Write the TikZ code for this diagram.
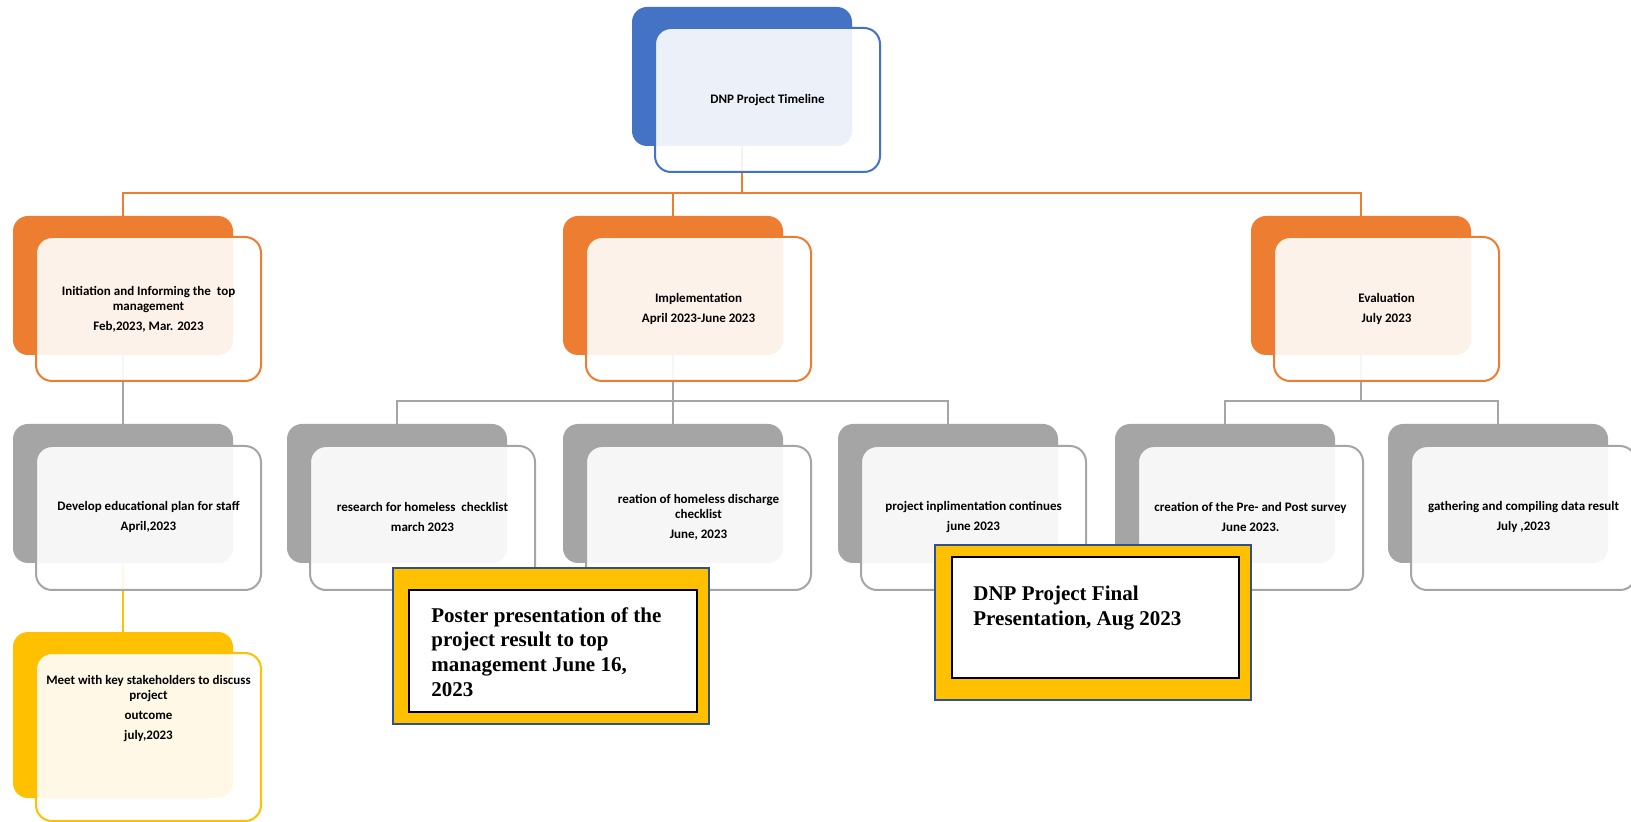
\documentclass[tikz,border=0pt]{standalone}
\usepackage{fontspec}
\setmainfont{Carlito}
\newfontfamily\callfont{Liberation Serif}
\usetikzlibrary{backgrounds}
\definecolor{cOrange}{HTML}{ED7D31}
\definecolor{cBlue}{HTML}{4472C4}
\definecolor{cGray}{HTML}{A5A5A5}
\definecolor{cYellow}{HTML}{FFC000}
\definecolor{cNavy}{HTML}{2F528F}
\tikzset{
 backbox/.style={rectangle, rounded corners=7.5pt, anchor=north west, inner sep=0pt, outer sep=0pt, minimum width=110pt, minimum height=69.5pt, draw=none},
 frontbox/.style={rectangle, rounded corners=8pt, anchor=north west, inner sep=0pt, outer sep=0pt, minimum width=112.5pt, minimum height=72pt, fill=white, fill opacity=0.9, line width=1pt},
 smalltext/.style={font=\fontsize{6.5}{7.5}\selectfont\bfseries, align=center, inner sep=0pt, text=black},
 conn/.style={line width=1pt},
 callout/.style={rectangle, anchor=north west, inner sep=0pt, outer sep=0pt, fill=cYellow, draw=cNavy, line width=0.8pt},
 callin/.style={rectangle, anchor=north west, inner sep=0pt, outer sep=0pt, fill=white, draw=black, line width=1.2pt},
 calltext/.style={font=\callfont\fontsize{10.5}{12.4}\selectfont\bfseries, align=left, anchor=north west, inner sep=0pt}
}
\begin{document}
\begin{tikzpicture}[x=0.5pt, y=-0.5pt]
\useasboundingbox (0,0) rectangle (1631,822);
\begin{scope}[on background layer]
\fill[white] (0,0) rectangle (1631,822);
\end{scope}

% back boxes
\node[backbox, fill=cBlue] (topB) at (632,7) {};
\node[backbox, fill=cOrange] (iniB) at (13,216) {};
\node[backbox, fill=cOrange] (impB) at (563,216) {};
\node[backbox, fill=cOrange] (evaB) at (1251,216) {};
\node[backbox, fill=cGray] (devB) at (13,424) {};
\node[backbox, fill=cGray] (resB) at (287,424) {};
\node[backbox, fill=cGray] (creB) at (563,424) {};
\node[backbox, fill=cGray] (conB) at (838,424) {};
\node[backbox, fill=cGray] (surB) at (1115,424) {};
\node[backbox, fill=cGray] (gatB) at (1388,424) {};
\node[backbox, fill=cYellow, minimum height=83pt] (meeB) at (13,632) {};

\coordinate (busA) at (0,193);
\coordinate (busB) at (0,401);

% connectors
\begin{scope}[on background layer]
\draw[conn, cOrange] (topB.south) -- (topB.south |- busA) -| (iniB.north);
\draw[conn, cOrange] (topB.south |- busA) -| (impB.north);
\draw[conn, cOrange] (topB.south |- busA) -| (evaB.north);
\draw[conn, cGray] (iniB.south) -- (devB.north);
\draw[conn, cYellow] (devB.south) -- (meeB.north);
\draw[conn, cGray] (impB.south) -- (impB.south |- busB) -| (resB.north);
\draw[conn, cGray] (impB.south |- busB) -- (creB.north);
\draw[conn, cGray] (impB.south |- busB) -| (conB.north);
\draw[conn, cGray] (evaB.south) -- (evaB.south |- busB) -| (surB.north);
\draw[conn, cGray] (evaB.south |- busB) -| (gatB.north);
\end{scope}

% front boxes
\node[frontbox, draw=cBlue] (topF) at (655,28) {};
\node[frontbox, draw=cOrange] (iniF) at (36,237) {};
\node[frontbox, draw=cOrange] (impF) at (586,237) {};
\node[frontbox, draw=cOrange] (evaF) at (1274,237) {};
\node[frontbox, draw=cGray] (devF) at (36,446) {};
\node[frontbox, draw=cGray] (resF) at (310,446) {};
\node[frontbox, draw=cGray] (creF) at (586,446) {};
\node[frontbox, draw=cGray] (conF) at (861,446) {};
\node[frontbox, draw=cGray] (surF) at (1138,446) {};
\node[frontbox, draw=cGray] (gatF) at (1411,446) {};
\node[frontbox, draw=cYellow, minimum height=84pt] (meeF) at (36,653) {};

% texts
\node[smalltext] (topT) at (767.5,100) {DNP Project Timeline};
\node[smalltext] (iniT) at (148.5,309) {Initiation and Informing the\ \ top\\management\\[2.5pt]Feb,2023, Mar. 2023};
\node[smalltext] (impT) at (698.5,309) {Implementation\\[2.5pt]April 2023-June 2023};
\node[smalltext] (evaT) at (1386.5,309) {Evaluation\\[2.5pt]July 2023};
\node[smalltext] (devT) at (148.5,517) {Develop educational plan for staff\\[2.5pt]April,2023};
\node[smalltext] (resT) at (422.5,517) {research for homeless\ \ checklist\\[2.5pt]march 2023};
\node[smalltext] (creT) at (698.5,517) {reation of homeless discharge\\checklist\\[2.5pt]June, 2023};
\node[smalltext] (conT) at (973.5,517) {project inplimentation continues\\[2.5pt]june 2023};
\node[smalltext] (surT) at (1250.5,517) {creation of the Pre- and Post survey\\[2.5pt]June 2023.};
\node[smalltext] (gatT) at (1523.5,517) {gathering and compiling data result\\[2.5pt]July ,2023};
\node[smalltext] (meeT) at (148.5,709) {Meet with key stakeholders to discuss\\project\\[2.5pt]outcome\\[2.5pt]july,2023};

% callouts
\node[callout, minimum width=158pt, minimum height=78pt] (posO) at (393,568) {};
\node[callin, minimum width=144pt, minimum height=61pt] (posI) at (409,590) {};
\node[calltext] (posT) at (431,607) {Poster presentation of the\\project result to top\\management June 16,\\2023};
\node[callout, minimum width=158pt, minimum height=77.5pt] (finO) at (935,545) {};
\node[callin, minimum width=143.5pt, minimum height=60.5pt] (finI) at (952,557) {};
\node[calltext] (finT) at (973,586) {DNP Project Final\\Presentation, Aug 2023};
\end{tikzpicture}
\end{document}
